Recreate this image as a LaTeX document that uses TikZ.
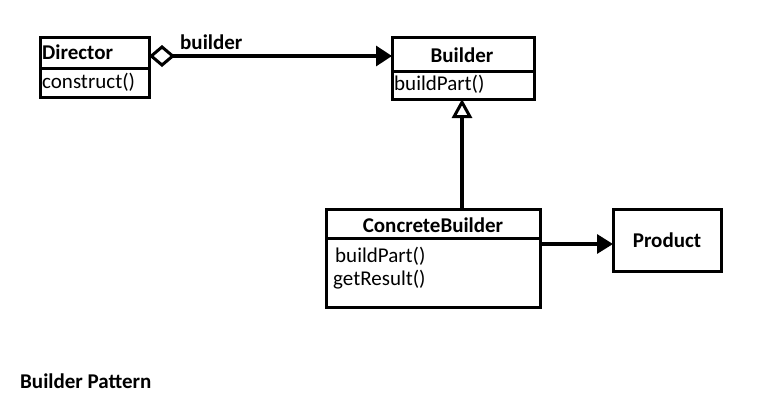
\documentclass[tikz,border=0pt]{standalone}
\usepackage{fontspec}
\setmainfont{Carlito}
\usetikzlibrary{arrows.meta}
\begin{document}
\begin{tikzpicture}[x=1pt,y=-1pt,
  box/.style={draw,line width=3pt,inner sep=0pt,outer sep=0pt,font=\fontsize{21}{23}\selectfont},
  bold/.style={font=\fontsize{21}{23}\selectfont\bfseries},
  txt/.style={anchor=west,inner sep=0pt,font=\fontsize{21}{23}\selectfont},
  conn/.style={line width=3.2pt},
]
\useasboundingbox (0,0) rectangle (768,408);
% Director
\node[box,minimum width=109,minimum height=31,anchor=north west] (dirH) at (40,37) {};
\node[box,minimum width=109,minimum height=29,anchor=north west] (dirB) at (40,68) {};
\node[txt,bold] (dirT) at (42,52) {Director};
\node[txt] (dirM) at (42,82) {construct()};
% Builder
\node[box,minimum width=142,minimum height=34,anchor=north west] (bH) at (392,37) {};
\node[box,minimum width=142,minimum height=28,anchor=north west] (bB) at (392,71) {};
\node[inner sep=0pt,bold] (bT) at (462,55) {Builder};
\node[txt] (bM) at (394,84) {buildPart()};
% ConcreteBuilder
\node[box,minimum width=214,minimum height=29,anchor=north west] (cH) at (326,209) {};
\node[box,minimum width=214,minimum height=69,anchor=north west] (cB) at (326,238) {};
\node[inner sep=0pt,bold] (cT) at (433,225) {ConcreteBuilder};
\node[txt] (m1) at (335,256) {buildPart()};
\node[txt] (m2) at (333,280) {getResult()};
% Product
\node[box,bold,minimum width=108,minimum height=62,anchor=north west,align=center] (prod) at (613,209) {Product};
% connectors
\draw[conn,{Diamond[open,length=26pt,width=22pt,line width=3pt]}-{Triangle[length=16pt,width=20pt]}] (dirH.south east) ++(0,-12) coordinate (d1) -- (bH.west |- d1);
\node[anchor=south west,inner sep=0pt,bold] (blbl) at (180,50) {builder};
\draw[conn,-{Triangle[open,length=19pt,width=20pt,line width=3pt]}] (cH.north -| 462,0) coordinate (c1) -- (bB.south -| c1);
\draw[conn,-{Triangle[length=16pt,width=19pt]}] (cB.east |- 0,244) coordinate (c2) -- (prod.west |- c2);
% title
\node[txt,bold] (title) at (20,381) {Builder Pattern};
\end{tikzpicture}
\end{document}
